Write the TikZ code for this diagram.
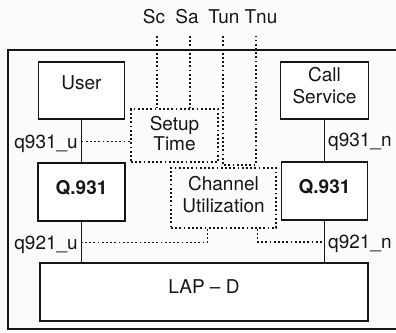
\documentclass[tikz,border=0pt]{standalone}
\usepackage{fontspec}
\setmainfont{TeX Gyre Heros}
\usepackage{xcolor}
\usepackage{tikz}
\usetikzlibrary{positioning,calc}
\definecolor{ScanInk}{HTML}{161616}
\definecolor{ScanPaper}{HTML}{FBFBFA}
\tikzset{
  layerbox/.style={draw=ScanInk, line width=1.8pt, fill=white, align=center, inner sep=0pt, text=ScanInk, font={\fontsize{19}{22}\selectfont}, text depth=10pt},
  measbox/.style={draw=ScanInk, line width=1.7pt, dash pattern=on 1.8pt off 2.4pt, align=center, inner sep=0pt, text=ScanInk, font={\fontsize{19}{22}\selectfont}},
  sapline/.style={draw=ScanInk, line width=1.4pt},
  measline/.style={draw=ScanInk, line width=1.7pt, dash pattern=on 1.8pt off 2.4pt},
  saplabel/.style={text=ScanInk, inner sep=1pt, font={\fontsize{19}{22}\selectfont}}
}

\begin{document}
\begin{tikzpicture}[x=1pt,y=-1pt]
      \fill[ScanPaper] (0,0) rectangle (396,332);
      \useasboundingbox (0,0) rectangle (396,332);
      % outer frame, open on the right
      \draw[ScanInk, line width=1.3pt] (396,50) -- (8,50) -- (8,329) -- (396,329);
      % protocol blocks
      \node[layerbox, minimum width=86pt, minimum height=57pt, text depth=15pt] (user) at (81.5,90.5) {User};
      \node[layerbox, minimum width=88pt, minimum height=57pt] (callsvc) at (324.5,90.5) {Call\\Service};
      \node[layerbox, minimum width=87pt, minimum height=58pt,
            font={\fontsize{19}{22}\selectfont\bfseries}] (q931u) at (81.5,192) {Q.931};
      \node[layerbox, minimum width=86pt, minimum height=58pt,
            font={\fontsize{19}{22}\selectfont\bfseries}] (q931n) at (324.5,191) {Q.931};
      \node[layerbox, minimum width=328pt, minimum height=58pt, text depth=10.5pt] (lapd) at (204,292) {LAP -- D};
      % measurement boxes
      \node[measbox, minimum width=87pt, minimum height=53pt, text depth=5pt,
            font={\fontsize{19}{20}\selectfont}] (setup) at (174.5,135.5) {Setup\\Time};
      \node[measbox, minimum width=105pt, minimum height=60pt, text depth=7pt] (chan) at (223.5,198) {Channel\\Utilization};
      % measured values
      \node[saplabel] (sc) at (154,17) {Sc};
      \node[saplabel] (sa) at (187,17) {Sa};
      \node[saplabel] (tun) at (224,17) {Tun};
      \node[saplabel] (tnu) at (261,17) {Tnu};
      \coordinate (scEnd) at (157,36);
      \coordinate (saEnd) at (190,36);
      \coordinate (tunEnd) at (223,36);
      \coordinate (tnuEnd) at (256,36);
      \coordinate (cuJoin) at (240,165);
      \draw[measline] (scEnd) -- (scEnd |- setup.north);
      \draw[measline] (saEnd) -- (saEnd |- setup.north);
      \draw[measline] (tunEnd) |- (cuJoin) -| (tnuEnd);
      % service access points
      \node[saplabel, anchor=east] (lq931u) at (79,143.5) {q931\_u};
      \node[saplabel, anchor=east] (lq921u) at (79,244.5) {q921\_u};
      \node[saplabel, anchor=west] (lq931n) at (327,141.5) {q931\_n};
      \node[saplabel, anchor=west] (lq921n) at (327,243.5) {q921\_n};
      \draw[sapline] (user) -- (q931u);
      \draw[sapline] (q931u.south) -- (q931u.south |- lapd.north);
      \draw[sapline] (callsvc) -- (q931n);
      \draw[sapline] (q931n.south) -- (q931n.south |- lapd.north);
      \coordinate (sap931u) at (81.5,141.5);
      \coordinate (sap921u) at (81.5,242.5);
      \coordinate (sap921n) at (324.5,242);
      \draw[measline] (sap931u) -- (sap931u -| setup.west);
      \draw[measline] ($(chan.south west)!0.35!(chan.south east)$) |- (sap921u);
      \draw[measline] ($(chan.south west)!0.82!(chan.south east)$) |- (sap921n);
    \end{tikzpicture}
\end{document}
